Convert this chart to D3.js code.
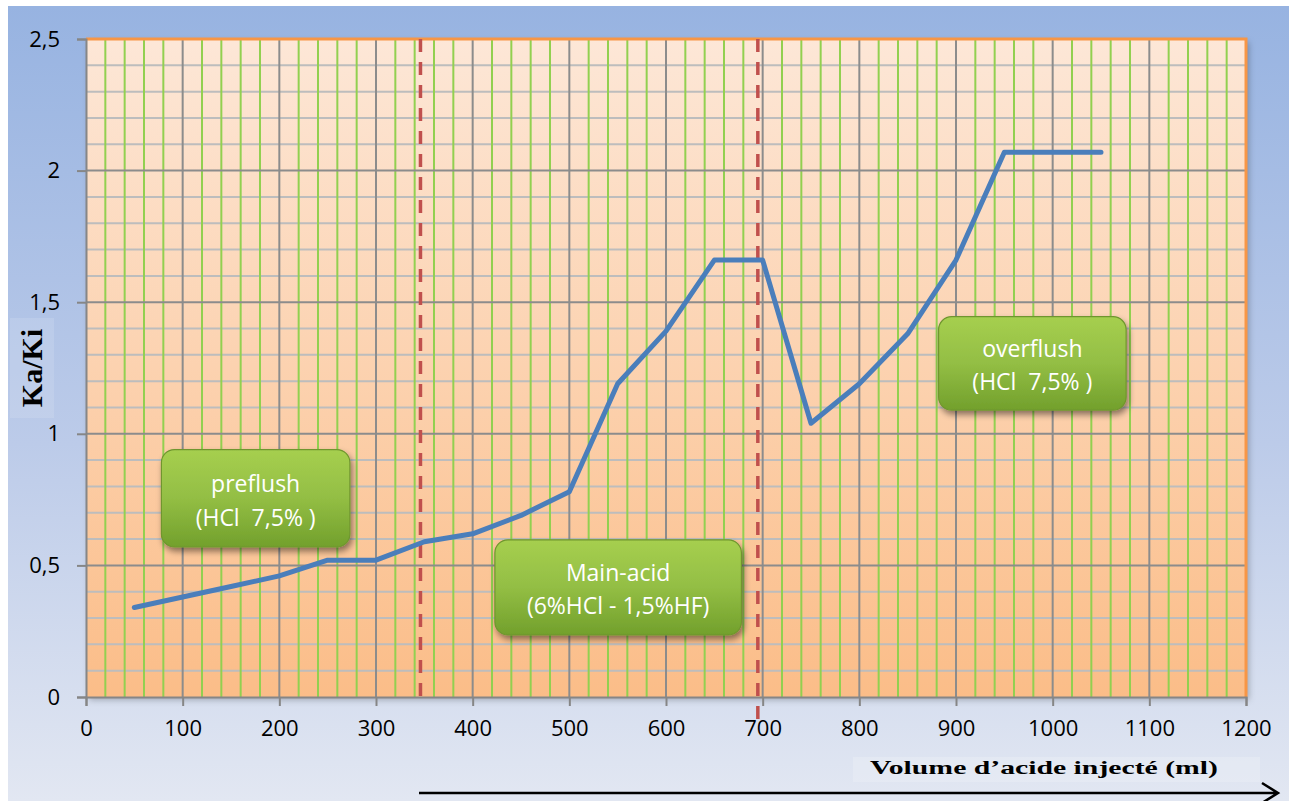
<!DOCTYPE html>
<html>
<head>
<meta charset="utf-8">
<script src="https://cdn.jsdelivr.net/npm/d3@7"></script>
<style>
  body { margin: 0; background: #fff; }
  text { white-space: pre; }
</style>
</head>
<body>
<div id="chart"></div>
<script>
// values
const volumes = [50, 100, 150, 200, 250, 300, 350, 400, 450, 500, 550,
  600, 650, 700, 750, 800, 850, 900, 950, 1000, 1050];
const kaKi = [0.34, 0.38, 0.42, 0.46, 0.52, 0.52, 0.59, 0.62, 0.69, 0.78, 1.19,
  1.39, 1.66, 1.66, 1.04, 1.19, 1.38, 1.66, 2.07, 2.07, 2.07];
const phaseBounds = [346, 695];
const phaseNames = ["preflush", "Main-acid", "overflush"];
const phaseAcids = ["(HCl  7,5% )", "(6%HCl - 1,5%HF)", "(HCl  7,5% )"];
const xTicks = [0, 100, 200, 300, 400, 500, 600, 700, 800, 900, 1000, 1100, 1200];
const yTicks = [0, 0.5, 1, 1.5, 2, 2.5];

// label boxes, placed in data units
const boxLeft = [78, 423, 882];
const boxRight = [273, 678, 1076];
const boxTop = [0.94, 0.597, 1.445];
const boxBottom = [0.57, 0.236, 1.09];

const W = 1291, H = 801;
const margin = { top: 39, right: 45, bottom: 104, left: 86 },
  width = W - margin.left - margin.right,
  height = H - margin.top - margin.bottom;

const svg = d3.select("#chart").append("svg")
  .attr("width", W)
  .attr("height", H);

const defs = svg.append("defs");

let bg = defs.append("linearGradient").attr("id", "bg")
  .attr("x1", 0).attr("y1", 0).attr("x2", 0).attr("y2", 1);
bg.append("stop").attr("offset", "0%").attr("stop-color", "#97b3e1");
bg.append("stop").attr("offset", "55%").attr("stop-color", "#bccbe9");
bg.append("stop").attr("offset", "100%").attr("stop-color", "#e2e7f2");

let plotBg = defs.append("linearGradient").attr("id", "plotBg")
  .attr("x1", 0).attr("y1", 0).attr("x2", 0).attr("y2", 1);
plotBg.append("stop").attr("offset", "0%").attr("stop-color", "#fde7d7");
plotBg.append("stop").attr("offset", "100%").attr("stop-color", "#fbbd88");

let boxGrad = defs.append("linearGradient").attr("id", "boxGrad")
  .attr("x1", 0).attr("y1", 0).attr("x2", 0).attr("y2", 1);
boxGrad.append("stop").attr("offset", "0%").attr("stop-color", "#a6cf4f");
boxGrad.append("stop").attr("offset", "50%").attr("stop-color", "#93be44");
boxGrad.append("stop").attr("offset", "100%").attr("stop-color", "#72a02c");

let shadow = defs.append("filter").attr("id", "shadow")
  .attr("x", "-10%").attr("y", "-10%").attr("width", "130%").attr("height", "140%");
shadow.append("feDropShadow")
  .attr("dx", 2).attr("dy", 4).attr("stdDeviation", 3)
  .attr("flood-color", "#000").attr("flood-opacity", 0.45);

let softShadow = defs.append("filter").attr("id", "softShadow")
  .attr("x", "-5%").attr("y", "-5%").attr("width", "110%").attr("height", "110%");
softShadow.append("feDropShadow")
  .attr("dx", 3).attr("dy", 3).attr("stdDeviation", 3)
  .attr("flood-color", "#000").attr("flood-opacity", 0.25);

// outer background
svg.append("rect")
  .attr("x", 8).attr("y", 6)
  .attr("width", W - 10).attr("height", H - 6)
  .attr("fill", "url(#bg)");

const g = svg.append("g")
  .attr("transform", "translate(" + margin.left + "," + margin.top + ")");

let x = d3.scaleLinear().domain([0, 1200]).range([0, width]);
let y = d3.scaleLinear().domain([0, 2.5]).range([height, 0]);

g.append("rect")
  .attr("width", width).attr("height", height)
  .attr("fill", "url(#plotBg)")
  .attr("filter", "url(#softShadow)");

// minor grid
g.append("g").selectAll("line")
  .data(d3.range(1, 25).filter(v => v % 5 !== 0).map(v => v / 10))
  .join("line")
  .attr("x1", 0).attr("x2", width)
  .attr("y1", d => y(d)).attr("y2", d => y(d))
  .attr("stroke", "#bdbdbd").attr("stroke-width", 2);

g.append("g").selectAll("line")
  .data(d3.range(20, 1200, 20).filter(v => v % 100 !== 0))
  .join("line")
  .attr("x1", d => x(d)).attr("x2", d => x(d))
  .attr("y1", 0).attr("y2", height)
  .attr("stroke", "#92d050").attr("stroke-width", 2);

// major grid
g.append("g").selectAll("line")
  .data(yTicks.slice(1, -1))
  .join("line")
  .attr("x1", 0).attr("x2", width)
  .attr("y1", d => y(d)).attr("y2", d => y(d))
  .attr("stroke", "#8c8c8c").attr("stroke-width", 2);

g.append("g").selectAll("line")
  .data(xTicks.slice(1, -1))
  .join("line")
  .attr("x1", d => x(d)).attr("x2", d => x(d))
  .attr("y1", 0).attr("y2", height)
  .attr("stroke", "#8c8c8c").attr("stroke-width", 2);

// top / right border
g.append("path")
  .attr("d", "M0,0H" + width + "V" + height)
  .attr("fill", "none")
  .attr("stroke", "#f79646").attr("stroke-width", 3);

const fmt = d => String(d).replace(".", ",");

let yAxis = g.append("g")
  .call(d3.axisLeft(y).tickValues(yTicks).tickFormat(fmt).tickSize(9).tickPadding(17));
let xAxis = g.append("g")
  .attr("transform", "translate(0," + height + ")")
  .call(d3.axisBottom(x).tickValues(xTicks).tickFormat(fmt).tickSize(9).tickPadding(14));

[xAxis, yAxis].forEach(a => {
  a.select(".domain").attr("stroke", "#868686").attr("stroke-width", 2);
  a.selectAll(".tick line").attr("stroke", "#868686").attr("stroke-width", 2);
  a.selectAll(".tick text")
    .attr("fill", "#000")
    .style("font-family", "'Open Sans', sans-serif")
    .style("font-size", "22px");
});

// phase boundaries
g.append("g").selectAll("line")
  .data(phaseBounds)
  .join("line")
  .attr("x1", d => x(d)).attr("x2", d => x(d))
  .attr("y1", y(2.5))
  .attr("y2", (d, i) => y(i === 0 ? -0.03 : -0.085))
  .attr("stroke", "#c0504d")
  .attr("stroke-width", 3.5)
  .attr("stroke-dasharray", "13,10");

// Ka/Ki curve
let valueline = d3.line()
  .x((d, i) => x(volumes[i]))
  .y(d => y(d));

g.append("path")
  .datum(kaKi)
  .attr("d", valueline)
  .attr("fill", "none")
  .attr("stroke", "#4a7ebb")
  .attr("stroke-width", 5)
  .attr("stroke-linejoin", "round")
  .attr("stroke-linecap", "round");

// phase boxes
let boxes = g.append("g").selectAll("g")
  .data(phaseNames)
  .join("g");

boxes.append("rect")
  .attr("x", (d, i) => x(boxLeft[i]))
  .attr("y", (d, i) => y(boxTop[i]))
  .attr("width", (d, i) => x(boxRight[i]) - x(boxLeft[i]))
  .attr("height", (d, i) => y(boxBottom[i]) - y(boxTop[i]))
  .attr("rx", 13)
  .attr("fill", "url(#boxGrad)")
  .attr("stroke", "#6f962e")
  .attr("stroke-width", 1.2)
  .attr("filter", "url(#shadow)");

boxes.append("text")
  .attr("x", (d, i) => (x(boxLeft[i]) + x(boxRight[i])) / 2)
  .attr("y", (d, i) => y(boxTop[i]) + (y(boxBottom[i]) - y(boxTop[i])) * 0.34)
  .attr("text-anchor", "middle")
  .attr("dominant-baseline", "central")
  .attr("fill", "#fff")
  .style("font-family", "'Open Sans', sans-serif")
  .style("font-size", "23px")
  .text(d => d);

boxes.append("text")
  .attr("x", (d, i) => (x(boxLeft[i]) + x(boxRight[i])) / 2)
  .attr("y", (d, i) => y(boxTop[i]) + (y(boxBottom[i]) - y(boxTop[i])) * 0.69)
  .attr("text-anchor", "middle")
  .attr("dominant-baseline", "central")
  .attr("fill", "#fff")
  .style("font-family", "'Open Sans', sans-serif")
  .style("font-size", "23px")
  .text((d, i) => phaseAcids[i]);

// y title
svg.append("rect")
  .attr("x", 10).attr("y", 318).attr("width", 44).attr("height", 100)
  .attr("fill", "#fff").attr("opacity", 0.12);
svg.append("text")
  .attr("transform", "translate(42,368) rotate(-90)")
  .attr("text-anchor", "middle")
  .attr("fill", "#000")
  .style("font-family", "'Liberation Serif', serif")
  .style("font-weight", "bold")
  .style("font-size", "30px")
  .text("Ka/Ki");

// x title
svg.append("rect")
  .attr("x", 853).attr("y", 757).attr("width", 407).attr("height", 25)
  .attr("fill", "#fff").attr("opacity", 0.18);
svg.append("text")
  .attr("x", 870).attr("y", 774)
  .attr("textLength", 348)
  .attr("lengthAdjust", "spacingAndGlyphs")
  .attr("fill", "#000")
  .style("font-family", "'Liberation Serif', serif")
  .style("font-weight", "bold")
  .style("font-size", "18px")
  .text("Volume d\u2019acide injecté (ml)");

// arrow
svg.append("path")
  .attr("d", "M419,793H1277M1262,783L1278,793L1262,803")
  .attr("fill", "none")
  .attr("stroke", "#000")
  .attr("stroke-width", 2.5);
</script>
</body>
</html>
